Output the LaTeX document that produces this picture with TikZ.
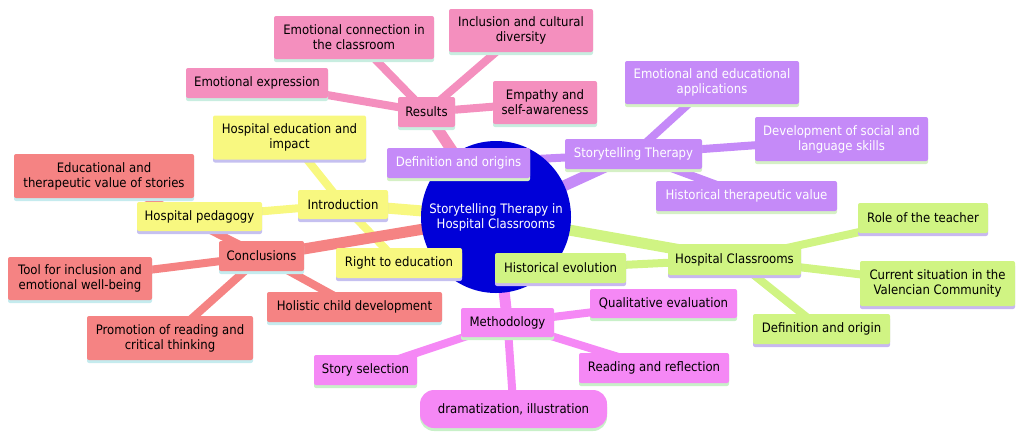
\documentclass[tikz,border=0pt]{standalone}
\usepackage{fontspec}
\setmainfont{DejaVu Sans}[FakeStretch=0.9]
\usetikzlibrary{shapes.geometric,shadows,backgrounds}
\definecolor{pinkc}{RGB}{244,143,190}
\definecolor{purplec}{RGB}{197,138,248}
\definecolor{yellowc}{RGB}{248,248,128}
\definecolor{redc}{RGB}{245,131,131}
\definecolor{greenc}{RGB}{208,244,131}
\definecolor{magc}{RGB}{245,136,245}
\definecolor{bluec}{RGB}{0,0,216}
\definecolor{pinksh}{RGB}{200,237,224}
\definecolor{purplesh}{RGB}{213,240,197}
\definecolor{yellowsh}{RGB}{197,192,240}
\definecolor{redsh}{RGB}{197,235,238}
\definecolor{greensh}{RGB}{200,184,240}
\definecolor{magsh}{RGB}{200,240,200}
\begin{document}
\begin{tikzpicture}[x=1pt,y=-1pt,
  base/.style={rectangle, rounded corners=2pt, inner sep=0pt, align=center,
    font=\fontsize{13}{15}\selectfont, text=black},
  sz/.style 2 args={minimum width=#1pt, minimum height=#2pt},
  pinkbox/.style={base, fill=pinkc, drop shadow={shadow xshift=0pt, shadow yshift=-3pt, fill=pinksh, opacity=1}},
  purplebox/.style={base, fill=purplec, text=white, drop shadow={shadow xshift=0pt, shadow yshift=-3pt, fill=purplesh, opacity=1}},
  yellowbox/.style={base, fill=yellowc, drop shadow={shadow xshift=0pt, shadow yshift=-3pt, fill=yellowsh, opacity=1}},
  redbox/.style={base, fill=redc, drop shadow={shadow xshift=0pt, shadow yshift=-3pt, fill=redsh, opacity=1}},
  greenbox/.style={base, fill=greenc, drop shadow={shadow xshift=0pt, shadow yshift=-3pt, fill=greensh, opacity=1}},
  magbox/.style={base, fill=magc, drop shadow={shadow xshift=0pt, shadow yshift=-3pt, fill=magsh, opacity=1}},
  rootline/.style={line width=11pt, draw=#1},
  leafline/.style={line width=8pt, draw=#1},
]
\useasboundingbox (0,0) rectangle (1024,437);

% root
\node[ellipse, fill=bluec, minimum width=150pt, minimum height=152pt, inner sep=0pt] (root) at (496,217) {};
\node[inner sep=0pt, text=white, align=center, font=\fontsize{13}{15}\selectfont] (roottext) at (root.center)
  {Storytelling Therapy in\\Hospital Classrooms};

% Results
\node[pinkbox, sz={57}{30}] (res) at (426.5,112) {Results};
\node[pinkbox, sz={160}{43}] (ec) at (354,37.5) {Emotional connection in\\the classroom};
\node[pinkbox, sz={144}{43}] (inc) at (521,30.5) {Inclusion and cultural\\diversity};
\node[pinkbox, sz={142}{30}] (ee) at (257,83) {Emotional expression};
\node[pinkbox, sz={104}{43}] (emp) at (545,102.5) {Empathy and\\self-awareness};

% Storytelling Therapy
\node[purplebox, sz={137}{30}] (st) at (633.5,154) {Storytelling Therapy};
\node[purplebox, sz={143}{30}] (def) at (458.5,163) {Definition and origins};
\node[purplebox, sz={174}{43}] (eea) at (712,82.5) {Emotional and educational\\applications};
\node[purplebox, sz={173}{44}] (dev) at (841.5,139) {Development of social and\\language skills};
\node[purplebox, sz={181}{30}] (htv) at (746.5,196) {Historical therapeutic value};

% Introduction
\node[yellowbox, sz={90}{29}] (intro) at (343,204.5) {Introduction};
\node[yellowbox, sz={153}{44}] (hei) at (289.5,137.5) {Hospital education and\\impact};
\node[yellowbox, sz={125}{29}] (hp) at (199.5,216.5) {Hospital pedagogy};
\node[yellowbox, sz={126}{30}] (rte) at (399,263) {Right to education};

% Conclusions
\node[redbox, sz={85}{30}] (conc) at (261.5,256) {Conclusions};
\node[redbox, sz={180}{44}] (etv) at (104,176) {Educational and\\therapeutic value of stories};
\node[redbox, sz={144}{43}] (tool) at (80,278.5) {Tool for inclusion and\\emotional well-being};
\node[redbox, sz={166}{44}] (prom) at (170,338) {Promotion of reading and\\critical thinking};
\node[redbox, sz={175}{30}] (hol) at (354.5,307) {Holistic child development};

% Hospital Classrooms
\node[greenbox, sz={133}{31}] (hc) at (734.5,259.5) {Hospital Classrooms};
\node[greenbox, sz={131}{30}] (he) at (560.5,268) {Historical evolution};
\node[greenbox, sz={130}{30}] (role) at (923,218) {Role of the teacher};
\node[greenbox, sz={155}{45}] (cur) at (937.5,283.5) {Current situation in the\\Valencian Community};
\node[greenbox, sz={137}{30}] (dor) at (821.5,329) {Definition and origin};

% Methodology
\node[magbox, sz={93}{29}] (meth) at (507.5,322.5) {Methodology};
\node[magbox, sz={147}{29}] (qe) at (663.5,303.5) {Qualitative evaluation};
\node[magbox, sz={103}{30}] (ss) at (365.5,370) {Story selection};
\node[magbox, sz={150}{30}] (rr) at (654,368) {Reading and reflection};
\node[magbox, sz={187}{38}, rounded corners=14pt] (dram) at (513.5,409) {dramatization, illustration};

\begin{pgfonlayer}{background}
  % Results
  \draw[rootline=pinkc] (root.center) -- (res.center);
  \draw[leafline=pinkc] (res.center) -- (ec.center);
  \draw[leafline=pinkc] (res.center) -- (inc.center);
  \draw[leafline=pinkc] (res.center) -- (ee.center);
  \draw[leafline=pinkc] (res.center) -- (emp.center);
  % Storytelling
  \draw[rootline=purplec] (root.center) -- (st.center);
  \draw[leafline=purplec] (st.center) -- (def.center);
  \draw[leafline=purplec] (st.center) -- (eea.center);
  \draw[leafline=purplec] (st.center) -- (dev.center);
  \draw[leafline=purplec] (st.center) -- (htv.center);
  % Introduction
  \draw[rootline=yellowc] (root.center) -- (intro.center);
  \draw[leafline=yellowc] (intro.center) -- (hei.center);
  \draw[leafline=yellowc] (intro.center) -- (hp.center);
  \draw[leafline=yellowc] (intro.center) -- (rte.center);
  % Conclusions
  \draw[rootline=redc] (root.center) -- (conc.center);
  \draw[leafline=redc] (conc.center) -- (etv.center);
  \draw[leafline=redc] (conc.center) -- (tool.center);
  \draw[leafline=redc] (conc.center) -- (prom.center);
  \draw[leafline=redc] (conc.center) -- (hol.center);
  % Hospital Classrooms
  \draw[rootline=greenc] (root.center) -- (hc.center);
  \draw[leafline=greenc] (hc.center) -- (he.center);
  \draw[leafline=greenc] (hc.center) -- (role.center);
  \draw[leafline=greenc] (hc.center) -- (cur.center);
  \draw[leafline=greenc] (hc.center) -- (dor.center);
  % Methodology
  \draw[rootline=magc] (root.center) -- (meth.center);
  \draw[leafline=magc] (meth.center) -- (qe.center);
  \draw[leafline=magc] (meth.center) -- (ss.center);
  \draw[leafline=magc] (meth.center) -- (rr.center);
  \draw[leafline=magc] (meth.center) -- (dram.center);
\end{pgfonlayer}
\end{tikzpicture}
\end{document}
